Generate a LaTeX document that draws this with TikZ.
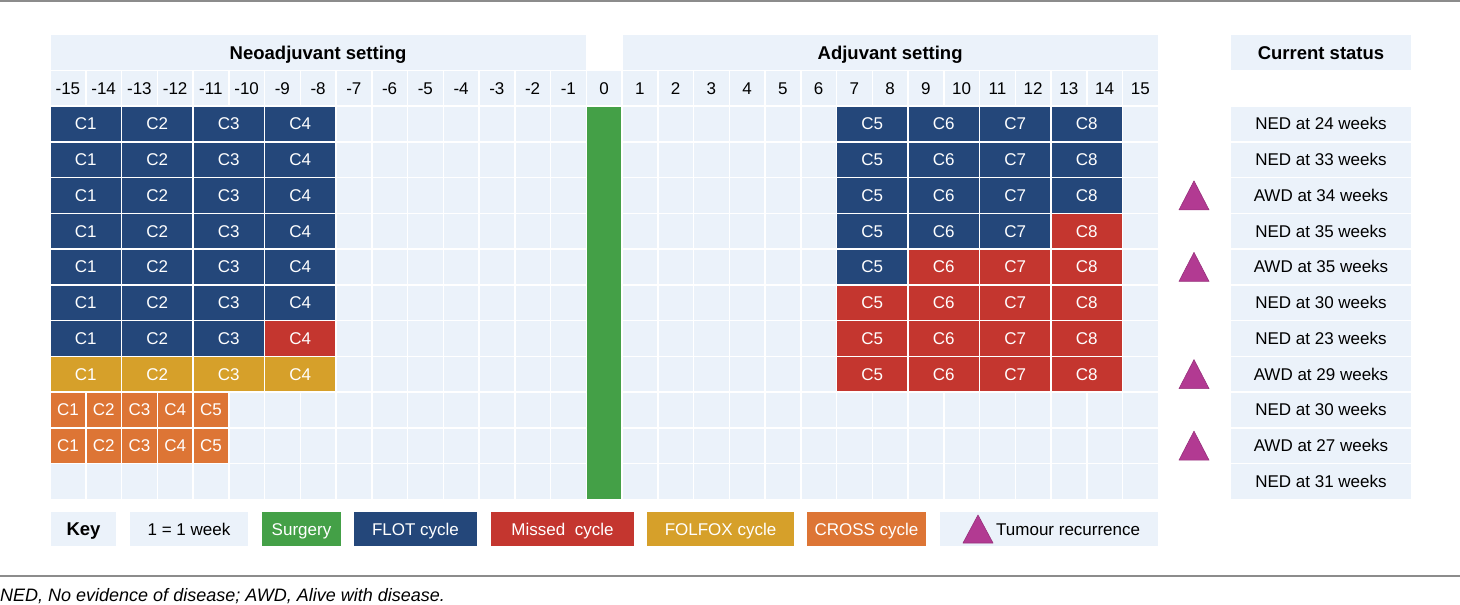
\documentclass[tikz,border=0pt]{standalone}
\usepackage{fontspec}
\setmainfont{Liberation Sans}
\usetikzlibrary{calc}
\definecolor{cellbg}{HTML}{EBF2FA}
\definecolor{flot}{HTML}{24477A}
\definecolor{missed}{HTML}{C4362F}
\definecolor{folfox}{HTML}{D6A02A}
\definecolor{cross}{HTML}{DD7535}
\definecolor{surg}{HTML}{44A047}
\definecolor{tum}{HTML}{B23A92}
\definecolor{rulegray}{HTML}{8C8C8C}
\begin{document}
\begin{tikzpicture}[x=1pt,y=-1pt,
 fixtext/.style={text height=12.2pt, text depth=0pt},
 cellbox/.style={draw=white, line width=1.5pt, fill=cellbg, minimum width=35.75pt, minimum height=35.75pt, inner sep=0pt, font=\fontsize{17}{17}\selectfont, fixtext},
 blk/.style={cellbox, fill=#1, text=white, minimum width=71.5pt},
 sblk/.style={cellbox, fill=cross, text=white},
 hdr/.style={draw=white, line width=1.5pt, fill=cellbg, inner sep=0pt, minimum height=35.75pt, font=\fontsize{18.5}{18.5}\selectfont\bfseries, text height=13.3pt, text depth=0pt},
 stat/.style={draw=white, line width=1.5pt, fill=cellbg, inner sep=0pt, minimum width=182pt, minimum height=35.75pt, font=\fontsize{17}{17}\selectfont, fixtext},
 keybox/.style={inner sep=0pt, minimum height=34pt, font=\fontsize{17}{17}\selectfont, fixtext},
 keytext/.style={keybox, text=white},
 tri/.style={fill=tum, draw=tum!85!black, line width=0.6pt, line join=round},
 rulel/.style={draw=rulegray, line width=1.5pt},
]
\useasboundingbox (0,0) rectangle (1460,605);
% rules
\coordinate (tl) at (0,1); \coordinate (tr) at (1460,1);
\coordinate (bl) at (0,576); \coordinate (br) at (1460,576);
\draw[rulel] (tl) -- (tr);
\draw[rulel] (bl) -- (br);
% headers
\node[hdr, minimum width=536.25pt] (neo) at (318.125,52.375) {Neoadjuvant setting};
\node[hdr, minimum width=536.25pt] (adj) at (890.125,52.375) {Adjuvant setting};
\node[hdr, minimum width=182pt] (cs) at (1321,52.375) {Current status};
% week numbers
\foreach \i [evaluate=\i as \lab using int(\i-16)] in {1,...,31}{
  \node[cellbox] (w\i) at ({50+(\i-1)*35.75+17.875},88.125) {\lab};
}
% background grid
\foreach \r in {1,...,11}{
  \foreach \i in {1,...,31}{
    \node[cellbox] (g\r-\i) at ({50+(\i-1)*35.75+17.875},{106+(\r-1)*35.75+17.875}) {};
  }
}
% surgery column
\node[draw=white, line width=1.5pt, fill=surg, minimum width=35.75pt, minimum height=393.25pt, inner sep=0pt] (surgery) at (604.125,302.625) {};
% cycle blocks
\foreach \r/\ca/\cb/\cc/\cd/\ce/\cf/\cg/\ch in {
  1/flot/flot/flot/flot/flot/flot/flot/flot,
  2/flot/flot/flot/flot/flot/flot/flot/flot,
  3/flot/flot/flot/flot/flot/flot/flot/flot,
  4/flot/flot/flot/flot/flot/flot/flot/missed,
  5/flot/flot/flot/flot/flot/missed/missed/missed,
  6/flot/flot/flot/flot/missed/missed/missed/missed,
  7/flot/flot/flot/missed/missed/missed/missed/missed,
  8/folfox/folfox/folfox/folfox/missed/missed/missed/missed}{
  \pgfmathsetmacro\yc{106+(\r-1)*35.75+17.875}
  \node[blk=\ca] (n\r-1) at (85.75,\yc) {C1};
  \node[blk=\cb] (n\r-2) at (157.25,\yc) {C2};
  \node[blk=\cc] (n\r-3) at (228.75,\yc) {C3};
  \node[blk=\cd] (n\r-4) at (300.25,\yc) {C4};
  \node[blk=\ce] (a\r-5) at (872.25,\yc) {C5};
  \node[blk=\cf] (a\r-6) at (943.75,\yc) {C6};
  \node[blk=\cg] (a\r-7) at (1015.25,\yc) {C7};
  \node[blk=\ch] (a\r-8) at (1086.75,\yc) {C8};
}
\foreach \r in {9,10}{
  \pgfmathsetmacro\yc{106+(\r-1)*35.75+17.875}
  \foreach \k in {1,...,5}{
    \node[sblk] (x\r-\k) at ({50+(\k-1)*35.75+17.875},\yc) {C\k};
  }
}
% status
\foreach \r/\t in {1/NED at 24 weeks, 2/NED at 33 weeks, 3/AWD at 34 weeks, 4/NED at 35 weeks, 5/AWD at 35 weeks, 6/NED at 30 weeks, 7/NED at 23 weeks, 8/AWD at 29 weeks, 9/NED at 30 weeks, 10/AWD at 27 weeks, 11/NED at 31 weeks}{
  \node[stat] (s\r) at (1321,{106+(\r-1)*35.75+17.875}) {\t};
}
% recurrence triangles
\foreach \r in {3,5,8,10}{
  \coordinate (t\r) at (1194,{106+(\r-1)*35.75+17.875});
  \draw[tri] ($(t\r)+(-15,14.5)$) -- ($(t\r)+(0,-14.5)$) -- ($(t\r)+(15,14.5)$) -- cycle;
}
% key
\node[keybox, fill=cellbg, minimum width=65pt, font=\fontsize{18.5}{18.5}\selectfont\bfseries, text height=13.3pt] (key) at (83.5,529) {Key};
\node[keybox, fill=cellbg, minimum width=118pt] (kwk) at (189,529) {1 = 1 week};
\node[keytext, fill=surg, minimum width=79pt] (ksurg) at (301.5,529) {Surgery};
\node[keytext, fill=flot, minimum width=123pt] (kflot) at (415.5,529) {FLOT cycle};
\node[keytext, fill=missed, minimum width=143pt] (kmiss) at (562.5,529) {Missed\ \ cycle};
\node[keytext, fill=folfox, minimum width=147pt] (kfol) at (720.5,529) {FOLFOX cycle};
\node[keytext, fill=cross, minimum width=119pt] (kcross) at (866.5,529) {CROSS cycle};
\node[keybox, fill=cellbg, minimum width=218pt] (ktum) at (1049,529) {};
\coordinate (kt) at (978,529);
\draw[tri] ($(kt)+(-15,14)$) -- ($(kt)+(0,-14)$) -- ($(kt)+(15,14)$) -- cycle;
\node[anchor=west, inner sep=0pt, font=\fontsize{17}{17}\selectfont, fixtext] (ktumt) at (996,529) {Tumour recurrence};
% caption
\node[anchor=west, inner sep=0pt, font=\fontsize{18}{18}\selectfont\itshape, text height=12.9pt, text depth=0pt] (cap) at (0,595) {NED, No evidence of disease; AWD, Alive with disease.};
\end{tikzpicture}
\end{document}
